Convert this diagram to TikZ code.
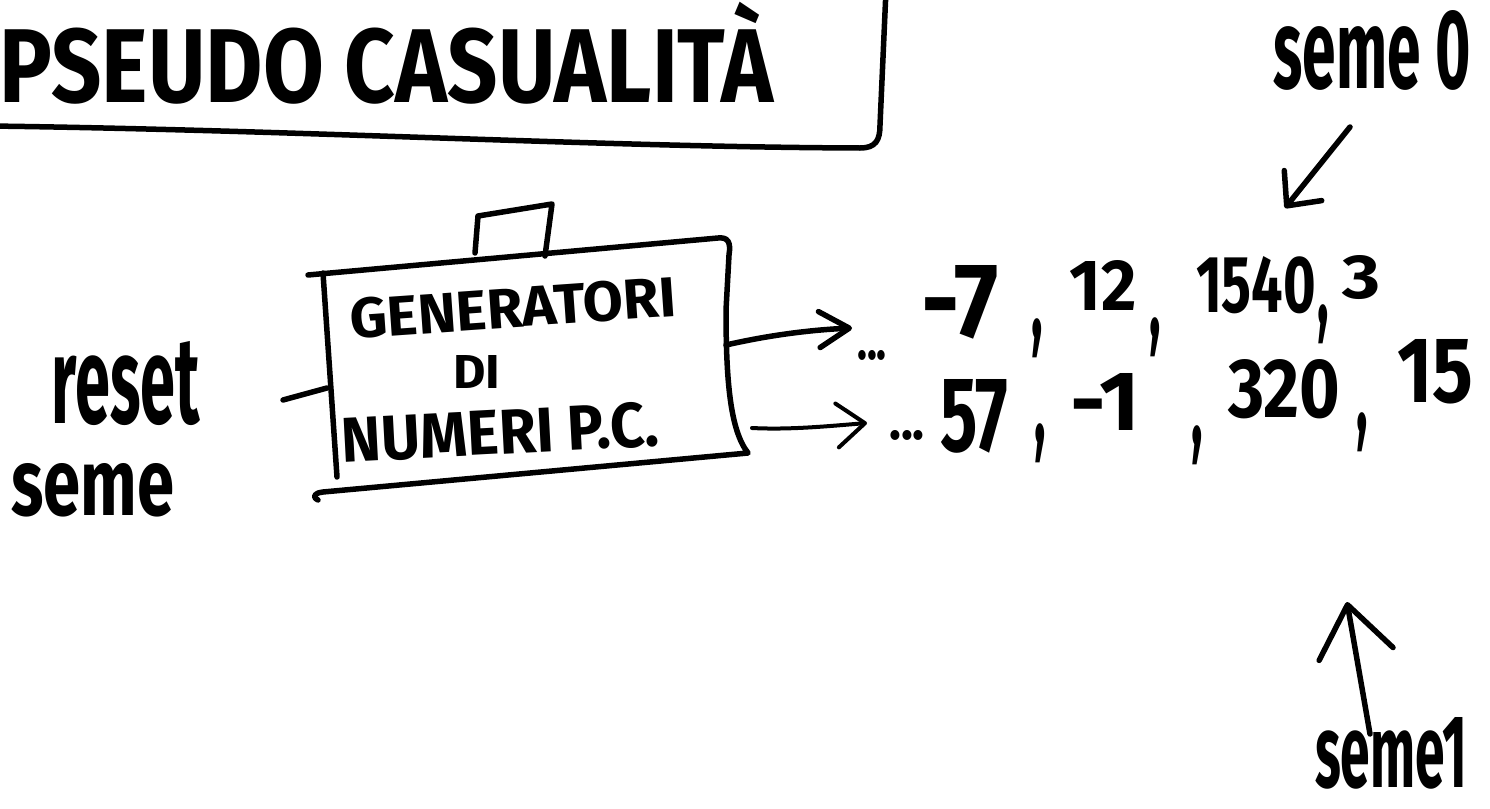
\documentclass[tikz,border=0pt]{standalone}
\usepackage{fontspec}
\usepackage{graphicx}
\setmainfont{Fira Sans}
\usetikzlibrary{arrows.meta}
\newcommand{\fitbox}[3]{\resizebox{#1pt}{#2pt}{\bfseries #3}}
\newcommand{\handcomma}{\scalebox{0.42}[1]{\fontsize{115}{115}\selectfont\bfseries ,}}
\newcommand{\handdots}[1]{\scalebox{#1}[1]{\fontsize{55}{55}\selectfont\bfseries ...}}
\begin{document}
\begin{tikzpicture}[x=1pt,y=-1pt,
  ink/.style={line width=5.5pt,line cap=round,line join=round},
  thinink/.style={line width=4pt,line cap=round,line join=round},
  lbl/.style={inner sep=0pt,outer sep=0pt},
]
\fill[white] (0,0) rectangle (1490,808);
\useasboundingbox (0,0) rectangle (1490,808);

% title
\node[lbl,anchor=base west] (title) at (0,102) {\scalebox{0.84}[1]{\fontsize{105}{105}\selectfont\bfseries PSEUDO CASUALITÀ}};
\draw[ink] (-10,126) .. controls (300,130) and (600,147) .. (860,148) .. controls (876,148) and (880,140) .. (880,125) -- (886,-10);

% generator box
\draw[ink] (308,275) -- (718,238) .. controls (728,237) and (731,242) .. (729,255) -- (726,310) .. controls (726,380) and (730,430) .. (748,453) -- (323,492) .. controls (314,493) and (312,497) .. (318,500);
\draw[ink] (323,273) -- (337,477);
\draw[ink] (475,253) -- (478,216) -- (552,204) -- (545,256);
\node[lbl,rotate=4] (gen1) at (513,308) {\fitbox{327}{40}{GENERATORI}};
\node[lbl] (gen2) at (477,372) {\fitbox{47}{33}{DI}};
\node[lbl,rotate=3] (gen3) at (500,432) {\fitbox{318}{45}{NUMERI P.C.}};

% reset seme
\node[lbl] (reset) at (126,384) {\fitbox{148}{82}{reset}};
\node[lbl] (seme) at (93,490) {\fitbox{163}{52}{seme}};
\coordinate (stubA) at (283,400);
\coordinate (stubB) at (327,388);
\draw[ink] (stubA) -- (stubB);

% row 1
\coordinate (o1) at (726,345);
\coordinate (t1) at (852,328);
\draw[ink,-{Straight Barb[round,length=30pt,width=36pt]}] (o1) .. controls (770,335) and (810,330) .. (t1);
\node[lbl] (d1) at (872,355) {\handdots{0.75}};
\node[lbl] (r1a) at (960,302) {\fitbox{77}{72}{-7}};
\node[lbl] (k1a) at (1037,338) {\handcomma};
\node[lbl] (r1b) at (1103,285) {\fitbox{67}{50}{12}};
\node[lbl] (k1b) at (1155,337) {\handcomma};
\node[lbl] (r1c) at (1256,285) {\fitbox{120}{56}{1540}};
\node[lbl] (k1c) at (1323,324) {\handcomma};
\node[lbl] (r1d) at (1361,278) {\fitbox{38}{43}{3}};

% row 2
\coordinate (o2) at (752,428);
\coordinate (t2) at (867,423);
\draw[thinink,-{Straight Barb[round,length=28pt,width=44pt]}] (o2) .. controls (790,430) and (830,426) .. (t2);
\node[lbl] (d2) at (907,435) {\handdots{0.9}};
\node[lbl] (r2a) at (974,416) {\fitbox{68}{72}{57}};
\node[lbl] (k2a) at (1040,443) {\handcomma};
\node[lbl] (r2b) at (1105,402) {\fitbox{70}{57}{-1}};
\node[lbl] (k2b) at (1197,445) {\handcomma};
\node[lbl] (r2c) at (1284,389) {\fitbox{112}{58}{320}};
\node[lbl] (k2c) at (1362,432) {\handcomma};
\node[lbl] (r2d) at (1435,372) {\fitbox{76}{63}{15}};

% seme 0
\node[lbl] (s0) at (1372,50) {\fitbox{197}{78}{seme 0}};
\coordinate (s0a) at (1350,127);
\coordinate (s0b) at (1285,208);
\draw[ink,-{Straight Barb[round,length=26pt,width=48pt]}] (s0a) -- (s0b);

% seme 1
\node[lbl] (s1) at (1391,753) {\fitbox{152}{70}{seme1}};
\coordinate (s1a) at (1370,734);
\coordinate (s1b) at (1347,602);
\draw[ink,-{Straight Barb[round,length=50pt,width=75pt]}] (s1a) -- (s1b);
\end{tikzpicture}
\end{document}
